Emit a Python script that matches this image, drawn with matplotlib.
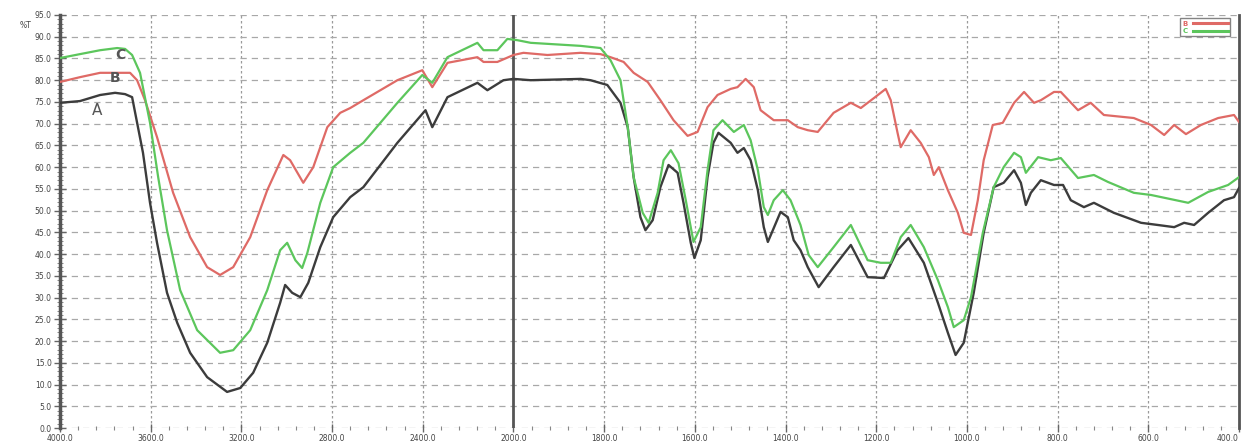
import numpy as np
import matplotlib
matplotlib.use("Agg")
import matplotlib.pyplot as plt
from matplotlib.ticker import FixedLocator, FuncFormatter
from matplotlib.lines import Line2D

# ---- data (wavenumber cm-1, %T) ----
wn_A = [4000, 3912, 3823, 3757, 3713, 3682, 3634, 3603, 3572, 3528, 3483, 3426, 3351, 3263, 3205, 3148,
        3086, 3029, 3007, 2976, 2940, 2905, 2852, 2795, 2720, 2662, 2512, 2388, 2358, 2291, 2159, 2115,
        2044, 2000, 1962, 1852, 1830, 1793, 1764, 1748, 1735, 1720, 1709, 1693, 1676, 1658, 1638, 1625,
        1609, 1601, 1587, 1572, 1559, 1548, 1521, 1506, 1492, 1477, 1461, 1448, 1439, 1428, 1411, 1395,
        1382, 1367, 1351, 1327, 1294, 1256, 1219, 1183, 1153, 1129, 1095, 1064, 1042, 1025, 1007, 985,
        963, 941, 919, 896, 881, 870, 859, 837, 808, 788, 771, 742, 720, 676, 616, 579, 543, 521, 499,
        468, 433, 411, 400]
t_A = [74.8, 75.2, 76.6, 77.1, 76.8, 76.1, 63.3, 51.8, 42.6, 31.1, 24.2, 17.3, 11.7, 8.3, 9.2, 12.7,
       19.6, 28.8, 32.9, 31.1, 30.1, 33.4, 41.6, 48.5, 53.1, 55.4, 65.6, 73.1, 69.2, 76.1, 79.4, 77.7,
       80.0, 80.3, 80.0, 80.3, 80.0, 78.9, 74.8, 69.2, 57.7, 48.5, 45.5, 47.8, 55.4, 60.5, 58.7, 51.8,
       42.6, 39.1, 43.2, 57.7, 65.6, 67.9, 65.6, 63.3, 64.4, 61.6, 54.7, 46.2, 42.8, 45.5, 49.7, 48.5,
       43.2, 40.9, 37.0, 32.4, 37.0, 42.1, 34.7, 34.5, 40.9, 43.7, 38.0, 28.8, 21.9, 16.8, 19.6, 31.1,
       44.9, 55.4, 56.4, 59.3, 56.4, 51.3, 54.1, 57.0, 55.9, 55.9, 52.4, 50.8, 51.8, 49.5, 47.2, 46.7,
       46.2, 47.2, 46.7, 49.5, 52.4, 53.1, 55.2]

wn_B = [4000, 3912, 3823, 3691, 3660, 3625, 3572, 3501, 3426, 3351, 3294, 3236, 3161, 3086, 3015, 2985,
        2927, 2883, 2821, 2764, 2720, 2662, 2512, 2402, 2358, 2291, 2159, 2132, 2071, 2000, 1978, 1925,
        1852, 1808, 1786, 1757, 1735, 1704, 1676, 1647, 1616, 1594, 1572, 1550, 1521, 1506, 1488, 1470,
        1455, 1426, 1395, 1373, 1351, 1329, 1294, 1256, 1234, 1205, 1179, 1168, 1153, 1146, 1124, 1102,
        1084, 1073, 1062, 1042, 1020, 1007, 991, 976, 963, 943, 921, 896, 874, 852, 837, 808, 793, 755,
        727, 698, 632, 594, 565, 543, 517, 484, 446, 411, 400]
t_B = [79.6, 80.7, 81.7, 81.7, 80.0, 75.4, 66.9, 54.1, 43.9, 37.0, 35.2, 37.0, 43.9, 54.7, 62.8, 61.6,
       56.4, 60.0, 69.2, 72.5, 73.6, 75.4, 80.0, 82.3, 78.4, 84.0, 85.3, 84.2, 84.2, 85.8, 86.3, 85.8,
       86.3, 86.0, 85.3, 84.2, 81.7, 79.6, 75.4, 70.8, 67.2, 68.1, 73.8, 76.6, 78.0, 78.4, 80.3, 78.4,
       73.1, 70.8, 70.8, 69.2, 68.5, 68.1, 72.5, 74.8, 73.6, 75.9, 78.0, 75.4, 67.9, 64.6, 68.5, 65.6,
       62.3, 58.2, 60.0, 54.7, 49.5, 44.9, 44.4, 52.4, 61.6, 69.7, 70.2, 74.8, 77.3, 74.8, 75.4, 77.3,
       77.3, 73.1, 74.8, 72.0, 71.3, 69.7, 67.4, 69.7, 67.6, 69.7, 71.3, 72.0, 70.4]

wn_C = [4000, 3912, 3823, 3748, 3713, 3682, 3647, 3603, 3567, 3528, 3470, 3395, 3294, 3236, 3161, 3086,
        3029, 2998, 2962, 2932, 2909, 2852, 2795, 2720, 2662, 2512, 2402, 2358, 2291, 2159, 2132, 2071,
        2027, 1991, 1962, 1852, 1808, 1786, 1764, 1748, 1735, 1715, 1702, 1682, 1669, 1653, 1636, 1620,
        1603, 1587, 1572, 1559, 1539, 1514, 1492, 1477, 1461, 1448, 1439, 1426, 1406, 1389, 1367, 1349,
        1329, 1294, 1256, 1219, 1190, 1168, 1146, 1124, 1095, 1064, 1042, 1029, 1007, 991, 965, 941,
        919, 896, 881, 870, 843, 815, 793, 755, 720, 689, 632, 594, 512, 468, 424, 400]
t_C = [85.1, 86.0, 86.9, 87.4, 87.2, 85.8, 81.7, 70.2, 57.7, 45.5, 31.7, 22.5, 17.3, 17.9, 22.5, 31.7,
       40.9, 42.6, 38.6, 36.8, 40.3, 51.8, 60.0, 63.3, 65.6, 74.8, 81.2, 79.4, 85.3, 88.6, 86.9, 86.9,
       89.5, 89.2, 88.6, 87.9, 87.4, 84.6, 80.0, 69.2, 57.7, 49.5, 47.2, 54.1, 61.6, 63.9, 60.9, 52.4,
       42.8, 46.2, 59.3, 68.5, 70.8, 68.1, 69.7, 66.2, 59.3, 50.8, 49.0, 52.4, 54.7, 52.4, 46.7, 39.8,
       37.0, 41.6, 46.7, 38.6, 38.0, 38.0, 43.9, 46.7, 41.6, 34.0, 27.8, 23.2, 24.8, 30.1, 44.9, 55.4,
       60.0, 63.3, 62.3, 58.7, 62.3, 61.6, 62.1, 57.5, 58.2, 56.6, 54.1, 53.6, 51.8, 54.3, 55.9, 57.7]

series_labels = ["A", "B", "C"]
x_ticks = [4000, 3600, 3200, 2800, 2400, 2000, 1800, 1600, 1400, 1200, 1000, 800, 600, 400]
y_ticks = list(range(0, 96, 5))

col_A, col_B, col_C = "#3c3c3c", "#df6a66", "#5cc65c"


def fwd(w):
    w = np.asarray(w, dtype=float)
    return np.where(w > 2000, 2000 + (w - 2000) * 0.5, w)


def inv(u):
    u = np.asarray(u, dtype=float)
    return np.where(u > 2000, 2000 + (u - 2000) * 2.0, u)


fig = plt.figure(figsize=(12.44, 4.43), dpi=100)
ax = fig.add_axes([60 / 1244, 15 / 443, (1239 - 60) / 1244, (428 - 15) / 443])
ax.set_xscale('function', functions=(fwd, inv))
ax.set_xlim(4000, 400)
ax.set_ylim(0, 95)

# grid
for xt in x_ticks[1:-1]:
    if xt == 2000:
        continue
    ax.axvline(xt, color="#9a9a9a", lw=0.9, ls=(0, (2, 2)), zorder=1)
for yt in y_ticks:
    ax.axhline(yt, color="#a8a8a8", lw=0.9, ls=(0, (5, 4)), zorder=1)
ax.axvline(2000, color="#555555", lw=2.0, zorder=2)

ax.plot(wn_A, t_A, color=col_A, lw=1.7, zorder=3)
ax.plot(wn_B, t_B, color=col_B, lw=1.6, zorder=3)
ax.plot(wn_C, t_C, color=col_C, lw=1.6, zorder=3)

ax.text(3837, 73.0, series_labels[0], fontsize=11, color="#555555", ha="center", va="center", zorder=4)
ax.text(3757, 80.5, series_labels[1], fontsize=10, color="#555555", ha="center", va="center",
        fontweight="bold", zorder=4)
ax.text(3735, 85.8, series_labels[2], fontsize=10, color="#555555", ha="center", va="center",
        fontweight="bold", zorder=4)

# spines
for s in ["top", "bottom"]:
    ax.spines[s].set_visible(False)
ax.spines["left"].set_color("#555555")
ax.spines["left"].set_linewidth(2.5)
ax.spines["right"].set_color("#555555")
ax.spines["right"].set_linewidth(2.0)

ax.xaxis.set_major_locator(FixedLocator(x_ticks))
minor_x = list(np.arange(4000, 2000, -80)) + list(np.arange(2000, 399, -40))
ax.xaxis.set_minor_locator(FixedLocator(minor_x))
ax.xaxis.set_major_formatter(FuncFormatter(lambda v, p: f"{v:.1f}"))
ax.yaxis.set_major_locator(FixedLocator(y_ticks))
ax.yaxis.set_minor_locator(FixedLocator(list(range(0, 96))))
ax.yaxis.set_major_formatter(FuncFormatter(lambda v, p: f"{v:.1f}"))

ax.tick_params(axis="x", which="major", direction="inout", length=6, width=1.0, color="#666666",
               labelsize=5.5, labelcolor="#444444", pad=1)
ax.tick_params(axis="x", which="minor", direction="inout", length=3, width=0.8, color="#888888")
ax.tick_params(axis="y", which="major", direction="inout", length=8, width=1.0, color="#666666",
               labelsize=5.5, labelcolor="#444444", pad=2)
ax.tick_params(axis="y", which="minor", direction="inout", length=4, width=0.7, color="#888888")

fig.text(20 / 1244, 1 - 25 / 443, "%T", fontsize=5.5, color="#444444", ha="left", va="center")

# legend
handles = [Line2D([], [], color=col_B, lw=2.2), Line2D([], [], color=col_C, lw=2.2)]
leg = ax.legend(handles, ["B", "C"], loc="upper right", bbox_to_anchor=(0.995, 1.0), fontsize=5,
                frameon=True, fancybox=False, edgecolor="#666666", borderpad=0.3,
                handlelength=5, labelspacing=0.2, markerfirst=False)
for txt, c in zip(leg.get_texts(), [col_B, col_C]):
    txt.set_color(c)
    txt.set_fontweight("bold")

fig.canvas.draw()
xl = ax.get_xticklabels()
xl[-1].set_horizontalalignment("right")

fig.savefig("out.png", dpi=100)
